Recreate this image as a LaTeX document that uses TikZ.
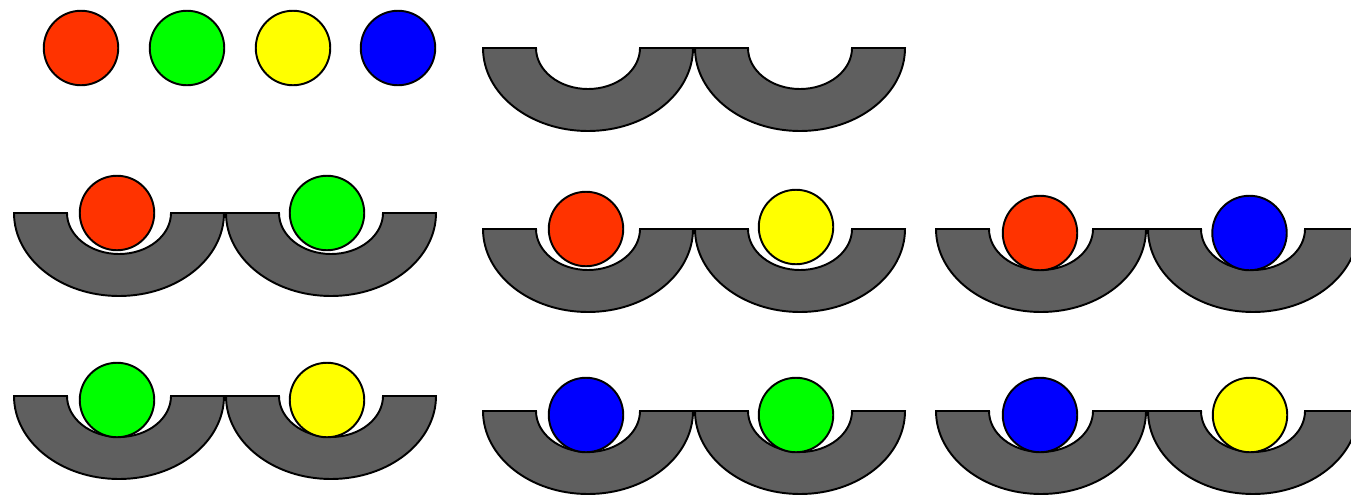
\documentclass[tikz,border=0pt]{standalone}
\usepackage{tikz}
\definecolor{ballred}{HTML}{FF3300}
\definecolor{ballgreen}{HTML}{00FF00}
\definecolor{ballyellow}{HTML}{FFFF00}
\definecolor{ballblue}{HTML}{0000FF}
\definecolor{cupgray}{HTML}{5F5F5F}

\begin{document}
\begin{tikzpicture}[x=0.02cm,y=-0.02cm,line width=1.1pt,
  ball/.style={circle,draw,inner sep=0pt,minimum size=1.49cm},
  bowl/.pic={\draw[fill=cupgray] (-105,0)--(-52,0)
    arc[start angle=180,end angle=0,x radius=52,y radius=41]--(105,0)
    arc[start angle=0,end angle=180,x radius=105,y radius=83]--cycle;}]
\useasboundingbox (0,0) rectangle (1351,494);
\clip (0,0) rectangle (1351,494);
% the cups, two in each group
\foreach \gx/\gy in {482/48,13/213,482/229,935/229,13/396,482/411,935/411}{
  \pic at (\gx+106,\gy) {bowl};
  \pic at (\gx+318,\gy) {bowl};
}
% the four balls
\node[ball,fill=ballred] (red) at (81,48) {};
\node[ball,fill=ballgreen] (green) at (187,48) {};
\node[ball,fill=ballyellow] (yellow) at (293,48) {};
\node[ball,fill=ballblue] (blue) at (398,48) {};
% balls in cups, second row
\node[ball,fill=ballred] (redA) at (117,213) {};
\node[ball,fill=ballgreen] (greenA) at (327,213) {};
\node[ball,fill=ballred] (redB) at (586,229) {};
\node[ball,fill=ballyellow] (yellowB) at (796,227) {};
\node[ball,fill=ballred] (redC) at (1040,233) {};
\node[ball,fill=ballblue] (blueC) at (1249.5,233) {};
% balls in cups, third row
\node[ball,fill=ballgreen] (greenD) at (117,400) {};
\node[ball,fill=ballyellow] (yellowD) at (327,400) {};
\node[ball,fill=ballblue] (blueE) at (586,415) {};
\node[ball,fill=ballgreen] (greenE) at (796,415) {};
\node[ball,fill=ballblue] (blueF) at (1040,415) {};
\node[ball,fill=ballyellow] (yellowF) at (1250,415) {};
\end{tikzpicture}
\end{document}
